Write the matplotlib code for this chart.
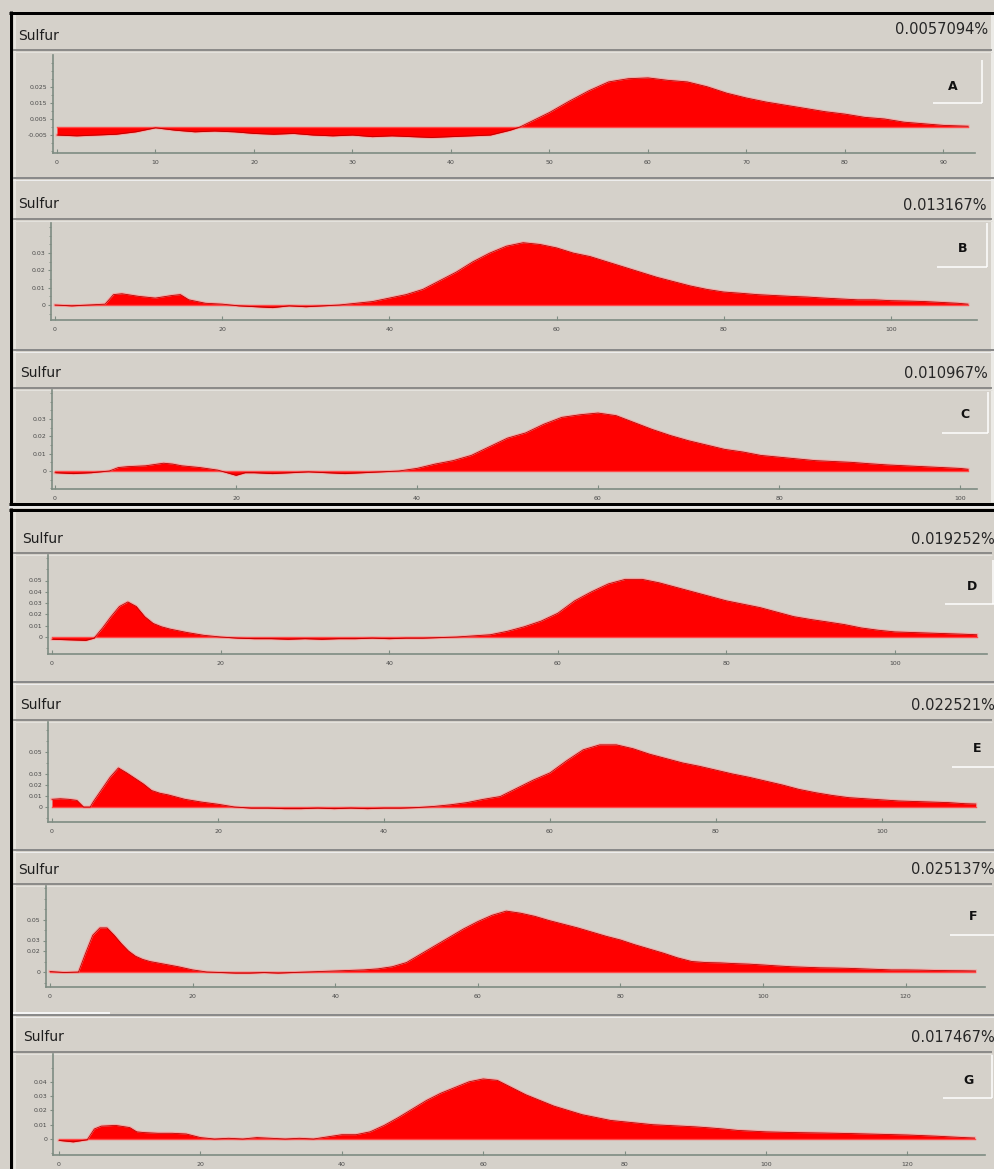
import matplotlib.pyplot as plt
from matplotlib.ticker import FixedLocator, FixedFormatter, MultipleLocator

# ── Data (x, signal) ──────────────────────────────────────────────────────────
panel_a = [(0, -0.005), (2, -0.0055), (4, -0.005), (6, -0.0045), (8, -0.003), (10, -0.0005),
           (12, -0.002), (14, -0.003), (16, -0.0025), (18, -0.003), (20, -0.004), (22, -0.0045),
           (24, -0.004), (26, -0.005), (28, -0.0055), (30, -0.005), (32, -0.006), (34, -0.0055),
           (36, -0.006), (38, -0.0065), (40, -0.006), (42, -0.0055), (44, -0.005), (46, -0.002),
           (47, 0.0), (48, 0.003), (50, 0.009), (52, 0.016), (54, 0.0225), (56, 0.028), (58, 0.030),
           (60, 0.0305), (62, 0.029), (64, 0.028), (66, 0.025), (68, 0.021), (70, 0.018),
           (72, 0.0155), (74, 0.0135), (76, 0.0115), (78, 0.0095), (80, 0.008), (82, 0.006),
           (84, 0.005), (86, 0.003), (88, 0.002), (90, 0.001), (92.5, 0.0005)]

panel_b = [(0, 0.0), (2, -0.0005), (4, 0.0), (6, 0.0005), (7, 0.006), (8, 0.0065), (10, 0.005),
           (12, 0.004), (14, 0.0055), (15, 0.006), (16, 0.003), (18, 0.001), (20, 0.0005),
           (22, -0.0005), (24, -0.001), (26, -0.0015), (28, -0.0005), (30, -0.001), (32, -0.0005),
           (34, 0.0), (36, 0.001), (38, 0.002), (40, 0.004), (42, 0.006), (44, 0.009), (46, 0.014),
           (48, 0.019), (50, 0.025), (52, 0.030), (54, 0.034), (56, 0.036), (58, 0.035), (60, 0.033),
           (62, 0.030), (64, 0.028), (66, 0.025), (68, 0.022), (70, 0.019), (72, 0.016),
           (74, 0.0135), (76, 0.011), (78, 0.009), (80, 0.0075), (82, 0.0068), (84, 0.006),
           (86, 0.0055), (88, 0.005), (90, 0.0046), (92, 0.004), (94, 0.0035), (96, 0.003),
           (98, 0.003), (100, 0.0025), (102, 0.0023), (104, 0.002), (106, 0.0015), (108, 0.001),
           (109.2, 0.0005)]

panel_c = [(0, -0.001), (2, -0.0015), (4, -0.001), (6, 0.0), (7, 0.002), (8, 0.0025), (10, 0.003),
           (12, 0.0045), (13, 0.004), (14, 0.003), (16, 0.002), (18, 0.0005), (20, -0.0025),
           (21, -0.001), (22, -0.001), (24, -0.0015), (26, -0.001), (28, -0.0005), (30, -0.001),
           (32, -0.0015), (34, -0.001), (36, -0.0005), (38, 0.0), (40, 0.0015), (42, 0.004),
           (44, 0.006), (46, 0.009), (48, 0.014), (50, 0.019), (52, 0.022), (54, 0.027), (56, 0.031),
           (58, 0.0325), (60, 0.0335), (62, 0.032), (64, 0.028), (66, 0.024), (68, 0.0205),
           (70, 0.0175), (72, 0.015), (74, 0.0125), (76, 0.011), (78, 0.009), (80, 0.008),
           (82, 0.007), (84, 0.006), (86, 0.0055), (88, 0.005), (90, 0.0042), (92, 0.0035),
           (94, 0.003), (96, 0.0025), (98, 0.002), (100, 0.0015), (100.9, 0.001)]

panel_d = [(0, -0.002), (2, -0.0025), (4, -0.003), (5, -0.001), (6, 0.008), (7, 0.018), (8, 0.027),
           (9, 0.031), (10, 0.027), (11, 0.018), (12, 0.012), (13, 0.009), (14, 0.007), (16, 0.004),
           (18, 0.0015), (20, 0.0), (22, -0.001), (24, -0.0015), (26, -0.0015), (28, -0.002),
           (30, -0.0015), (32, -0.002), (34, -0.0015), (36, -0.0015), (38, -0.001), (40, -0.0015),
           (42, -0.001), (44, -0.001), (46, -0.0005), (48, 0.0), (50, 0.001), (52, 0.002),
           (54, 0.005), (56, 0.009), (58, 0.014), (60, 0.021), (62, 0.032), (64, 0.040), (66, 0.047),
           (68, 0.051), (70, 0.051), (72, 0.048), (74, 0.044), (76, 0.040), (78, 0.036), (80, 0.032),
           (82, 0.029), (84, 0.026), (86, 0.022), (88, 0.018), (90, 0.0155), (92, 0.0133),
           (94, 0.011), (96, 0.008), (98, 0.006), (100, 0.0045), (102, 0.004), (104, 0.0035),
           (106, 0.003), (108, 0.0025), (109.7, 0.002)]

panel_e = [(0, 0.007), (1, 0.0075), (2, 0.007), (3, 0.006), (3.8, 0.0), (4.6, 0.0), (5, 0.005),
           (6, 0.016), (7, 0.027), (8, 0.0355), (9, 0.031), (10, 0.026), (11, 0.021), (12, 0.015),
           (13, 0.0125), (14, 0.011), (16, 0.007), (18, 0.0045), (20, 0.0025), (22, 0.0),
           (24, -0.001), (26, -0.001), (28, -0.0015), (30, -0.0015), (32, -0.001), (34, -0.0015),
           (36, -0.001), (38, -0.0015), (40, -0.001), (42, -0.001), (44, -0.0005), (46, 0.0005),
           (48, 0.002), (50, 0.004), (52, 0.007), (54, 0.0095), (56, 0.017), (58, 0.0245),
           (60, 0.031), (62, 0.042), (64, 0.052), (66, 0.0565), (68, 0.0565), (70, 0.053),
           (72, 0.048), (74, 0.044), (76, 0.040), (78, 0.037), (80, 0.0335), (82, 0.030),
           (84, 0.027), (86, 0.0235), (88, 0.020), (90, 0.016), (92, 0.013), (94, 0.0105),
           (96, 0.0085), (98, 0.0075), (100, 0.0065), (102, 0.0055), (104, 0.005), (106, 0.0045),
           (108, 0.004), (110, 0.003), (111.3, 0.0027)]

panel_f = [(0, 0.0005), (2, -0.0005), (4, 0.0), (5, 0.018), (6, 0.035), (7, 0.042), (8, 0.042),
           (9, 0.035), (10, 0.027), (11, 0.02), (12, 0.015), (13, 0.012), (14, 0.01), (16, 0.0075),
           (18, 0.005), (20, 0.002), (22, 0.0), (24, -0.0005), (26, -0.001), (28, -0.001),
           (30, -0.0005), (32, -0.001), (34, -0.0005), (36, 0.0), (38, 0.0005), (40, 0.001),
           (42, 0.0015), (44, 0.002), (46, 0.003), (48, 0.005), (50, 0.009), (52, 0.017),
           (54, 0.025), (56, 0.033), (58, 0.041), (60, 0.048), (62, 0.054), (64, 0.058), (66, 0.056),
           (68, 0.053), (70, 0.049), (72, 0.0455), (74, 0.042), (76, 0.038), (78, 0.034),
           (80, 0.0305), (82, 0.026), (84, 0.022), (86, 0.018), (88, 0.0135), (90, 0.010),
           (92, 0.009), (94, 0.0087), (96, 0.008), (98, 0.0075), (100, 0.0067), (102, 0.0058),
           (104, 0.005), (106, 0.0045), (108, 0.004), (110, 0.0038), (112, 0.0035), (114, 0.003),
           (116, 0.0025), (118, 0.002), (120, 0.002), (122, 0.0018), (124, 0.0015), (126, 0.0013),
           (128, 0.0012), (129.8, 0.001)]

panel_g = [(0, -0.001), (2, -0.002), (4, -0.0005), (5, 0.007), (6, 0.009), (8, 0.0095), (10, 0.008),
           (11, 0.005), (12, 0.0045), (14, 0.004), (16, 0.004), (18, 0.0035), (20, 0.001), (22, 0.0),
           (24, 0.0005), (26, 0.0), (28, 0.001), (30, 0.0005), (32, 0.0), (34, 0.0005), (36, 0.0),
           (38, 0.0015), (40, 0.003), (42, 0.003), (44, 0.005), (46, 0.0095), (48, 0.015),
           (50, 0.021), (52, 0.027), (54, 0.032), (56, 0.036), (58, 0.040), (60, 0.042), (62, 0.041),
           (64, 0.036), (66, 0.031), (68, 0.027), (70, 0.023), (72, 0.02), (74, 0.017), (76, 0.015),
           (78, 0.013), (80, 0.012), (82, 0.011), (84, 0.010), (86, 0.0095), (88, 0.009),
           (90, 0.0085), (92, 0.0078), (94, 0.007), (96, 0.006), (98, 0.0055), (100, 0.005),
           (104, 0.0045), (108, 0.0042), (112, 0.0038), (116, 0.0033), (120, 0.0028), (124, 0.002),
           (128, 0.001), (129.5, 0.0007)]

traces = [panel_a, panel_b, panel_c, panel_d, panel_e, panel_f, panel_g]
letters = ['A', 'B', 'C', 'D', 'E', 'F', 'G']
percents = ['0.0057094%', '0.013167%', '0.010967%', '0.019252%',
            '0.022521%', '0.025137%', '0.017467%']
x_steps = [10, 20, 20, 20, 20, 20, 20]
y_ticks = [[0.025, 0.015, 0.005, -0.005],
           [0.03, 0.02, 0.01, 0.0],
           [0.03, 0.02, 0.01, 0.0],
           [0.05, 0.04, 0.03, 0.02, 0.01, 0.0],
           [0.05, 0.03, 0.02, 0.01, 0.0],
           [0.05, 0.03, 0.02, 0.0],
           [0.04, 0.03, 0.02, 0.01, 0.0]]
y_labels = [['0.025', '0.015', '0.005', '-0.005'],
            ['0.03', '0.02', '0.01', '0'],
            ['0.03', '0.02', '0.01', '0'],
            ['0.05', '0.04', '0.03', '0.02', '0.01', '0'],
            ['0.05', '0.03', '0.02', '0.01', '0'],
            ['0.05', '0.03', '0.02', '0'],
            ['0.04', '0.03', '0.02', '0.01', '0']]
y_minor = [0.005, 0.005, 0.005, 0.01, 0.01, 0.01, 0.01]

# ── Layout in screen pixels ───────────────────────────────────────────────────
W, H = 995, 1169
BG = '#D5D1CA'
AXC = '#7E8C82'
PT = 0.72  # points per pixel at dpi 100

# plot box (left, right, top, bottom) and pixel scale (x of 0, px/unit, y of 0, px per 0.01)
boxes = [(53, 975, 55, 153), (51, 977, 223, 320), (52, 977, 390, 489), (48, 987, 555, 654),
         (48, 985, 722, 822), (46, 985, 886, 987), (53, 985, 1054, 1155)]
scales = [(57, 9.85, 127, 16.1), (55, 8.36, 305, 17.3), (55, 9.05, 471, 17.3),
          (52, 8.43, 637, 11.3), (52, 8.3, 807, 11.0), (50, 7.13, 972, 10.5),
          (59, 7.07, 1139, 14.3)]
sulfur_pos = [(18, 36), (18, 204), (20, 373), (22, 539), (20, 705), (18, 870), (23, 1037)]
pct_pos = [(988, 30), (987, 205), (988, 373), (995, 540), (995, 705), (995, 870), (995, 1038)]
sep_y = [50, 219, 388, 553, 720, 884, 1052]
letter_pos = [(953, 87), (963, 248), (965, 415), (972, 586), (977, 748), (973, 917), (968, 1080)]
bracket_v = [(982, 60, 103), (987, 223, 267), (988, 392, 433), (993, 560, 604), None, None,
             (992, 1055, 1098)]
bracket_h = [(933, 982, 103), (937, 987, 267), (942, 988, 433), (945, 995, 604),
             (952, 995, 767), (950, 995, 935), (943, 992, 1098)]
dividers = [178, 350, 682, 850, 1015]

fig = plt.figure(figsize=(W / 100, H / 100), dpi=100)
fig.patch.set_facecolor(BG)
deco = fig.add_axes([0, 0, 1, 1], zorder=0)
deco.set_xlim(0, W)
deco.set_ylim(H, 0)
deco.axis('off')


def hline(y, x1, x2, color, w):
    deco.plot([x1, x2], [y, y], color=color, lw=w * PT, solid_capstyle='butt')


def vline(x, y1, y2, color, w):
    deco.plot([x, x], [y1, y2], color=color, lw=w * PT, solid_capstyle='butt')


# window frames
vline(15, 14, 502, '#ECEBE7', 1.5)
vline(15, 512, H, '#ECEBE7', 1.5)
vline(992, 14, 502, '#ECEBE7', 3)
for y in dividers:
    hline(y, 13, W, '#8A8A8A', 2)
    hline(y + 2, 13, W, '#EDEDED', 1)
hline(1013, 13, 110, '#F4F4F4', 2)
for y in sep_y:
    hline(y, 13, 992, '#7A7A7A', 1.6)
    hline(y + 1.6, 13, 992, '#E4E2DD', 1)
hline(12.5, 9, 994, 'black', 3)
vline(11, 11, 505, 'black', 3)
hline(503.5, 9, 994, 'black', 3)
hline(506.5, 9, W, '#E6E6E6', 2)
hline(510, 9, W, 'black', 3)
vline(11, 508, H, 'black', 3)

for i, data in enumerate(traces):
    l, r, t, b = boxes[i]
    x0, ppu, y0, ppy = scales[i]
    ax = fig.add_axes([l / W, 1 - b / H, (r - l) / W, (b - t) / H], zorder=2)
    ax.patch.set_alpha(0)
    ax.set_xlim((l - x0) / ppu, (r - x0) / ppu)
    ax.set_ylim((y0 - b) / ppy * 0.01, (y0 - t) / ppy * 0.01)

    xs = [p[0] for p in data]
    ys = [p[1] for p in data]
    ax.plot(xs, ys, color='#F3A9A6', lw=2.2, zorder=1)
    ax.fill_between(xs, 0, ys, color='#FF0000', lw=0, zorder=2)
    ax.plot([xs[0], xs[-1]], [0, 0], color='#FF4A4A', lw=1.0, zorder=2.5)
    ax.plot(xs, ys, color='#B80000', lw=0.6, zorder=3)

    for side in ('top', 'right'):
        ax.spines[side].set_visible(False)
    for side in ('left', 'bottom'):
        ax.spines[side].set_color(AXC)
        ax.spines[side].set_linewidth(1.2)

    ax.xaxis.set_major_locator(MultipleLocator(x_steps[i]))
    ax.yaxis.set_major_locator(FixedLocator(y_ticks[i]))
    ax.yaxis.set_major_formatter(FixedFormatter(y_labels[i]))
    ax.yaxis.set_minor_locator(MultipleLocator(y_minor[i]))
    ax.tick_params(axis='x', direction='in', length=3, width=0.8, color=AXC,
                   labelsize=4.5, labelcolor='#4A4A4A', pad=5)
    ax.tick_params(axis='y', which='major', direction='out', length=2.5, width=0.8, color=AXC,
                   labelsize=4.5, labelcolor='#4A4A4A', pad=1.5)
    ax.tick_params(axis='y', which='minor', direction='out', length=1.5, width=0.6, color=AXC)

    sx, sy = sulfur_pos[i]
    deco.text(sx, sy, 'Sulfur', fontsize=10, color='#1E1E1E', ha='left', va='center')
    px_, py_ = pct_pos[i]
    deco.text(px_, py_, percents[i], fontsize=10.5, color='#262626', ha='right', va='center')
    lx, ly = letter_pos[i]
    deco.text(lx, ly, letters[i], fontsize=9, fontweight='bold', color='#111111',
              ha='center', va='center')
    if bracket_v[i] is not None:
        vx, vy1, vy2 = bracket_v[i]
        vline(vx, vy1, vy2, 'white', 1.5)
    hx1, hx2, hy = bracket_h[i]
    hline(hy, hx1, hx2, 'white', 1.5)

fig.savefig('out.png', dpi=100, facecolor=BG)
